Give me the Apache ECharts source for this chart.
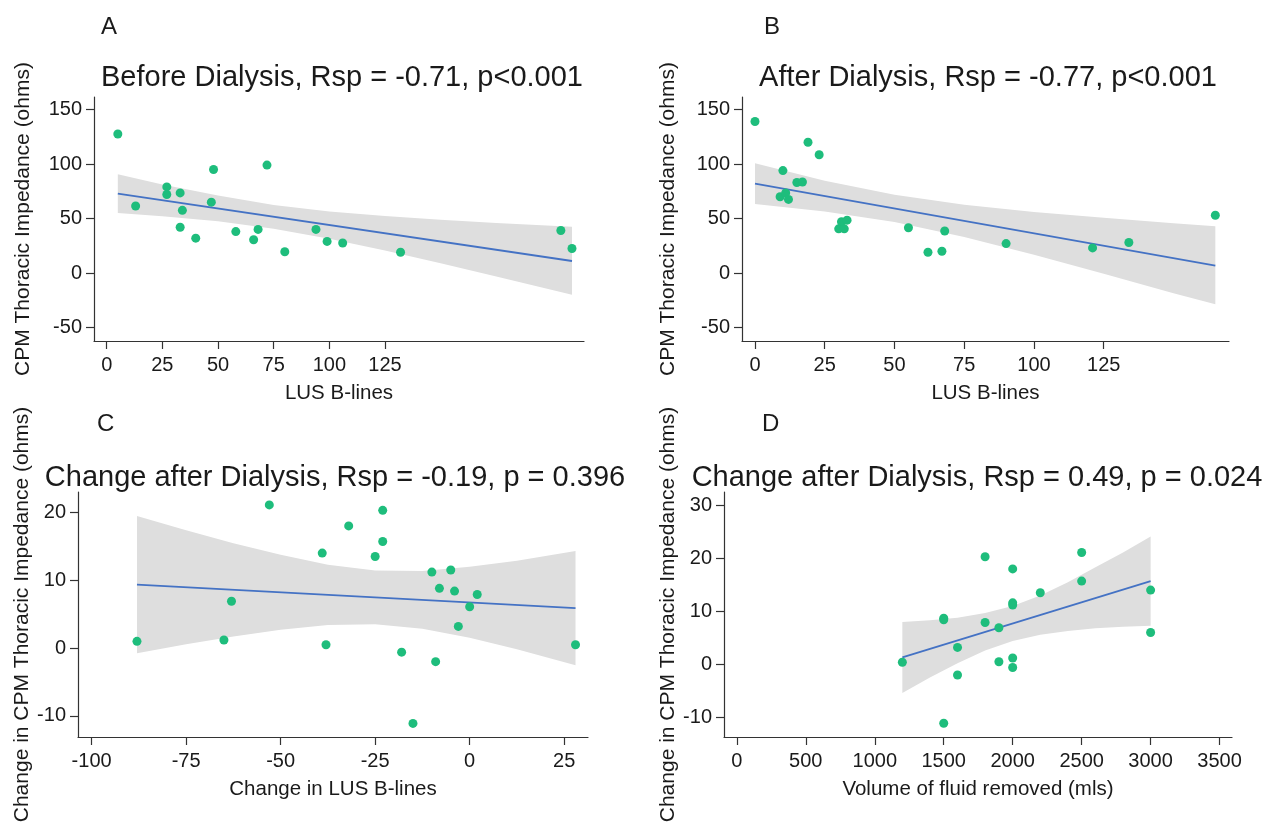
<!DOCTYPE html>
<html>
<head>
<meta charset="utf-8">
<title>CPM Thoracic Impedance vs LUS B-lines</title>
<script src="https://cdn.jsdelivr.net/npm/echarts@6/dist/echarts.min.js"></script>
<style>
    html, body { margin: 0; padding: 0; background: #fff; }
    #chart { width: 1271px; height: 828px; }
</style>
</head>
<body>
<div id="chart"></div>
<script>
// ---- A: before dialysis ----
const beforeX = [5, 13, 27, 27, 33, 34, 33, 40, 47, 48, 58, 66, 68, 72, 80, 94, 99, 106, 132, 204, 209];
const beforeY = [127.5, 61.5, 79, 72, 73.5, 57.5, 42, 32, 65, 95, 38, 30.5, 40, 99, 19.5, 40, 29, 27.5, 19, 39, 22.5];
const beforeFitX = [5, 209];
const beforeFitY = [72.8, 11.0];
const beforeBandX = [5, 25, 50, 75, 100, 125, 150, 175, 209];
const beforeBandHi = [90.5, 81.3, 71.0, 62.5, 56.5, 52.2, 48.8, 45.8, 42.5];
const beforeBandLo = [55.1, 52.1, 47.4, 40.7, 31.5, 20.6, 9.0, -3.2, -20.0];

// ---- B: after dialysis ----
const afterX = [0, 10, 19, 23, 15, 17, 9, 11, 12, 30, 31, 32, 33, 55, 62, 67, 68, 90, 121, 134, 165];
const afterY = [139, 94, 120, 108.5, 83, 83.5, 70, 73.5, 67.5, 40.5, 47, 40.5, 48.5, 41.5, 19, 20, 38.5, 27, 23, 28, 53];
const afterFitX = [0, 165];
const afterFitY = [82, 6.7];
const afterBandX = [0, 25, 50, 75, 100, 125, 150, 165];
const afterBandHi = [100.6, 84.7, 71.7, 62.6, 56.0, 50.6, 45.7, 42.8];
const afterBandLo = [63.4, 56.5, 46.7, 33.0, 16.8, -0.6, -18.5, -28.7];

// ---- C: change in B-lines ----
const chgX = [-88, -65, -63, -53, -39, -38, -32, -25, -23, -23, -18, -15, -10, -9, -8, -5, -4, -3, 0, 2, 28];
const chgY = [1, 1.2, 6.9, 21.1, 14, 0.5, 18, 13.5, 20.3, 15.7, -0.6, -11.1, 11.2, -2, 8.8, 11.5, 8.4, 3.2, 6.1, 7.9, 0.5];
const chgFitX = [-88, 28];
const chgFitY = [9.35, 5.9];
const chgBandX = [-88, -75, -62.5, -50, -37.5, -25, -12.5, 0, 12.5, 28];
const chgBandHi = [19.45, 17.37, 15.46, 13.75, 12.28, 11.44, 11.37, 11.97, 12.88, 14.31];
const chgBandLo = [-0.75, 0.55, 1.72, 2.69, 3.42, 3.52, 2.85, 1.51, -0.16, -2.51];

// ---- D: volume of fluid removed ----
const volX = [1200, 1500, 1500, 1500, 1600, 1600, 1800, 1800, 1900, 1900, 2000, 2000, 2000, 2000, 2000, 2200, 2500, 2500, 3000, 3000];
const volY = [0.4, 8.7, 8.4, -11.1, 3.2, -2, 20.3, 7.9, 6.9, 0.5, 18, 11.6, 11.2, 1.2, -0.6, 13.5, 21.1, 15.7, 14, 6];
const volFitX = [1200, 3000];
const volFitY = [1.3, 15.7];
const volBandX = [1200, 1400, 1600, 1800, 2000, 2200, 2400, 2600, 2800, 3000];
const volBandHi = [8.0, 8.3, 8.8, 9.7, 11.0, 13.0, 15.5, 18.3, 21.1, 24.1];
const volBandLo = [-5.4, -2.5, 0.2, 2.6, 4.4, 5.6, 6.3, 6.8, 7.1, 7.3];

// tick labels
const blinesTicks = [0, 25, 50, 75, 100, 125];
const impTicks = [-50, 0, 50, 100, 150];
const chgBlinesTicks = [-100, -75, -50, -25, 0, 25];
const chgImpTicks = [-10, 0, 10, 20];
const volTicks = [0, 500, 1000, 1500, 2000, 2500, 3000, 3500];
const chgImpTicksD = [-10, 0, 10, 20, 30];

const FONT = '"Liberation Sans", Arial, Helvetica, sans-serif';
const AXIS_COLOR = '#333333';
const TEXT_COLOR = '#1a1a1a';
const DOT_COLOR = '#1ebd7c';
const LINE_COLOR = '#4472c4';
const BAND_COLOR = '#dedede';

const zip = (xs, ys) => xs.map((x, i) => [x, ys[i]]);

/**
 * 一个面板的坐标轴
 */
function makeAxis(kind, idx, min, max, ticks, name, nameGap) {
    return {
        type: 'value',
        gridIndex: idx,
        min: min, max: max,
        name: name,
        nameLocation: 'middle',
        nameGap: nameGap,
        nameRotate: kind === 'y' ? 90 : 0,
        nameTextStyle: { color: TEXT_COLOR, fontSize: kind === 'y' ? 21 : 20.5, fontFamily: FONT },
        axisLine: { show: true, onZero: false, lineStyle: { color: AXIS_COLOR, width: 1.2 } },
        axisTick: { show: true, length: 8, customValues: ticks, lineStyle: { color: AXIS_COLOR, width: 1.2 } },
        axisLabel: {
            customValues: ticks, color: TEXT_COLOR, fontSize: 20, fontFamily: FONT,
            margin: kind === 'y' ? 12 : 14,
            formatter: v => String(v)
        },
        splitLine: { show: false }
    };
}

/**
 * 置信带：用 custom 多边形画上下边界之间的区域
 */
function makeBand(idx, bandX, hi, lo) {
    return {
        type: 'custom', xAxisIndex: idx, yAxisIndex: idx, silent: true, z: 1,
        data: [[bandX[0], hi[0]]],
        renderItem: (params, api) => {
            const upper = bandX.map((x, i) => api.coord([x, hi[i]]));
            const lower = bandX.map((x, i) => api.coord([x, lo[i]])).reverse();
            return {
                type: 'polygon',
                shape: { points: upper.concat(lower) },
                style: { fill: BAND_COLOR }
            };
        }
    };
}

/**
 * 一个面板的系列：置信带 + 拟合线 + 散点
 */
function makeSeries(idx, bandX, hi, lo, fitX, fitY, xs, ys) {
    return [
        makeBand(idx, bandX, hi, lo),
        {
            type: 'line', xAxisIndex: idx, yAxisIndex: idx, z: 2,
            data: zip(fitX, fitY), symbol: 'none', silent: true,
            lineStyle: { color: LINE_COLOR, width: 1.8 }
        },
        {
            type: 'scatter', xAxisIndex: idx, yAxisIndex: idx, z: 3,
            data: zip(xs, ys), symbolSize: 9,
            itemStyle: { color: DOT_COLOR, opacity: 1 }
        }
    ];
}

const chart = echarts.init(document.getElementById('chart'));

const titleStyle = { color: TEXT_COLOR, fontSize: 29, fontWeight: 'normal', fontFamily: FONT };
const letterStyle = { color: TEXT_COLOR, fontSize: 24, fontWeight: 'normal', fontFamily: FONT };

const option = {
    backgroundColor: '#ffffff',
    animation: false,
    title: [
        { text: 'A', left: 96, top: 10, textStyle: letterStyle },
        { text: 'B', left: 759, top: 10, textStyle: letterStyle },
        { text: 'C', left: 92, top: 407, textStyle: letterStyle },
        { text: 'D', left: 757, top: 407, textStyle: letterStyle },
        { text: 'Before Dialysis, Rsp = -0.71, p<0.001', left: 337, top: 58, textAlign: 'center', textStyle: titleStyle },
        { text: 'After Dialysis, Rsp = -0.77, p<0.001', left: 983, top: 58, textAlign: 'center', textStyle: titleStyle },
        { text: 'Change after Dialysis, Rsp = -0.19, p = 0.396', left: 330, top: 458, textAlign: 'center', textStyle: titleStyle },
        { text: 'Change after Dialysis, Rsp = 0.49, p = 0.024', left: 972, top: 458, textAlign: 'center', textStyle: titleStyle }
    ],
    grid: [
        { left: 94, top: 97, width: 490, height: 244 },
        { left: 742, top: 97, width: 487, height: 244 },
        { left: 78, top: 492, width: 510, height: 245 },
        { left: 724, top: 492, width: 508, height: 245 }
    ],
    xAxis: [
        makeAxis('x', 0, -5.7, 214.4, blinesTicks, 'LUS B-lines', 42),
        makeAxis('x', 1, -4.66, 169.9, blinesTicks, 'LUS B-lines', 42),
        makeAxis('x', 2, -103.6, 31.3, chgBlinesTicks, 'Change in LUS B-lines', 42),
        makeAxis('x', 3, -93, 3590, volTicks, 'Volume of fluid removed (mls)', 42)
    ],
    yAxis: [
        makeAxis('y', 0, -62.4, 161.5, impTicks, 'CPM Thoracic Impedance (ohms)', 60),
        makeAxis('y', 1, -62.4, 161.5, impTicks, 'CPM Thoracic Impedance (ohms)', 63),
        makeAxis('y', 2, -13.1, 23.0, chgImpTicks, 'Change in CPM Thoracic Impedance (ohms)', 45),
        makeAxis('y', 3, -13.7, 32.5, chgImpTicksD, 'Change in CPM Thoracic Impedance (ohms)', 45)
    ],
    series: [].concat(
        makeSeries(0, beforeBandX, beforeBandHi, beforeBandLo, beforeFitX, beforeFitY, beforeX, beforeY),
        makeSeries(1, afterBandX, afterBandHi, afterBandLo, afterFitX, afterFitY, afterX, afterY),
        makeSeries(2, chgBandX, chgBandHi, chgBandLo, chgFitX, chgFitY, chgX, chgY),
        makeSeries(3, volBandX, volBandHi, volBandLo, volFitX, volFitY, volX, volY)
    )
};

chart.setOption(option);
</script>
</body>
</html>
